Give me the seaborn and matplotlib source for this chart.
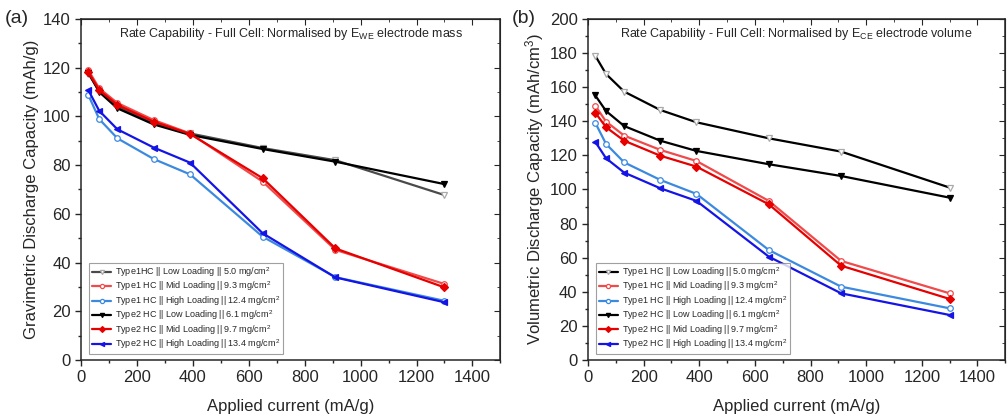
import numpy as np
import pandas as pd
import seaborn as sns
import matplotlib
matplotlib.use("Agg")
import matplotlib.pyplot as plt
from matplotlib.ticker import MultipleLocator

# applied current (mA/g)
current = [26, 65, 130, 260, 390, 650, 910, 1300]

# gravimetric capacity (mAh/g), panel (a)
grav_t1_low = [117.5, 110.5, 104, 97, 93, 87, 82, 67.7]
grav_t1_mid = [119, 111.5, 105.5, 98.5, 93, 73.2, 45.2, 31.2]
grav_t1_high = [108.8, 98.9, 91.0, 82.5, 76.2, 50.6, 34.0, 24.3]
grav_t2_low = [118, 110, 103.3, 96.7, 92.4, 86.6, 81.4, 72.2]
grav_t2_mid = [118.1, 110.8, 104.7, 97.8, 92.8, 74.6, 45.8, 29.8]
grav_t2_high = [110.8, 102.3, 94.7, 87.2, 81.0, 52.0, 33.9, 23.7]

# volumetric capacity (mAh/cm3), panel (b)
vol_t1_low = [178.5, 167.7, 157.4, 146.6, 139.4, 130.0, 122.2, 101.1]
vol_t1_mid = [149.2, 139.8, 131.6, 123.2, 116.7, 93.3, 58.1, 39.1]
vol_t1_high = [139.2, 126.7, 115.9, 105.6, 97.4, 64.5, 43.0, 30.3]
vol_t2_low = [155.2, 146.0, 137.2, 128.6, 122.6, 114.8, 107.9, 95.2]
vol_t2_mid = [145.1, 136.5, 128.6, 119.8, 113.4, 91.3, 55.3, 35.8]
vol_t2_high = [128.0, 118.3, 109.9, 100.7, 93.3, 60.6, 39.1, 26.4]

labels_a = ["Type1HC || Low Loading || 5.0 mg/cm$^2$",
            "Type1 HC || Mid Loading || 9.3 mg/cm$^2$",
            "Type1 HC || High Loading || 12.4 mg/cm$^2$",
            "Type2 HC || Low Loading || 6.1 mg/cm$^2$",
            "Type2 HC || Mid Loading || 9.7 mg/cm$^2$",
            "Type2 HC || High Loading || 13.4 mg/cm$^2$"]
labels_b = ["Type1 HC || Low Loading || 5.0 mg/cm$^2$"] + labels_a[1:]

# (color, marker, filled)
styles = [("#4a4a4a", "v", False),
          ("#f04a4a", "o", False),
          ("#3c8ae0", "o", False),
          ("#000000", "v", True),
          ("#e60000", "D", True),
          ("#1414e6", "<", True)]

sns.set_style("ticks")
plt.rcParams["font.family"] = ["Liberation Sans", "DejaVu Sans"]
plt.rcParams["mathtext.fontset"] = "custom"
plt.rcParams["mathtext.rm"] = "Liberation Sans"
plt.rcParams["mathtext.it"] = "Liberation Sans:italic"
plt.rcParams["mathtext.bf"] = "Liberation Sans:bold"

fig = plt.figure(figsize=(10.08, 4.19), dpi=100)
ax_a = fig.add_axes([0.0804, 0.1408, 0.416, 0.814])
ax_b = fig.add_axes([0.5833, 0.1408, 0.414, 0.814])


def draw_panel(ax, series, labels, ymax, ylabel, title, line1_color):
    for i, (vals, lab) in enumerate(zip(series, labels)):
        color, marker, filled = styles[i]
        if i == 0:
            color = line1_color
        df = pd.DataFrame({"current": current, "cap": vals})
        sns.lineplot(data=df, x="current", y="cap", ax=ax, color=color,
                     marker=marker, markersize=4, linewidth=1.6,
                     markerfacecolor=color if filled else "white",
                     markeredgecolor=color if filled else "#aaaaaa" if i == 0 else color,
                     markeredgewidth=0.9, label=lab)
    ax.set_xlim(0, 1500)
    ax.set_ylim(0, ymax)
    ax.xaxis.set_major_locator(MultipleLocator(200))
    ax.xaxis.set_minor_locator(MultipleLocator(100))
    ax.yaxis.set_major_locator(MultipleLocator(20))
    ax.yaxis.set_minor_locator(MultipleLocator(10))
    ax.set_xticks([0, 200, 400, 600, 800, 1000, 1200, 1400])
    ax.tick_params(which="major", direction="out", length=4, width=1, labelsize=12)
    ax.tick_params(which="minor", direction="out", length=2.5, width=1)
    for s in ax.spines.values():
        s.set_linewidth(1.1)
        s.set_visible(True)
    top = ax.secondary_xaxis("top")
    top.xaxis.set_major_locator(MultipleLocator(200))
    top.xaxis.set_minor_locator(MultipleLocator(100))
    top.tick_params(which="both", direction="in", labeltop=False)
    top.tick_params(which="major", length=4)
    top.tick_params(which="minor", length=2.5)
    right = ax.secondary_yaxis("right")
    right.yaxis.set_major_locator(MultipleLocator(20))
    right.yaxis.set_minor_locator(MultipleLocator(10))
    right.tick_params(which="both", direction="in", labelright=False)
    right.tick_params(which="major", length=4)
    right.tick_params(which="minor", length=2.5)
    ax.set_xlabel("Applied current (mA/g)", fontsize=12, labelpad=10)
    ax.set_ylabel(ylabel, fontsize=12, labelpad=3)
    ax.text(0.5, 0.955, title, transform=ax.transAxes, ha="center", va="center", fontsize=9)
    leg = ax.legend(loc="lower left", fontsize=6.5, frameon=True, fancybox=False,
                    edgecolor="#888888", borderpad=0.3, labelspacing=0.08,
                    handlelength=2.2, handletextpad=0.4, markerscale=0.75,
                    bbox_to_anchor=(0.008, 0.005))
    leg.get_frame().set_linewidth(0.8)


draw_panel(ax_a, [grav_t1_low, grav_t1_mid, grav_t1_high, grav_t2_low, grav_t2_mid, grav_t2_high],
           labels_a, 140, "Gravimetric Discharge Capacity (mAh/g)",
           "Rate Capability - Full Cell: Normalised by E$_{\\rm WE}$ electrode mass", "#4a4a4a")
draw_panel(ax_b, [vol_t1_low, vol_t1_mid, vol_t1_high, vol_t2_low, vol_t2_mid, vol_t2_high],
           labels_b, 200, "Volumetric Discharge Capacity (mAh/cm$^3$)",
           "Rate Capability - Full Cell: Normalised by E$_{\\rm CE}$ electrode volume", "#000000")

fig.text(0.005, 0.955, "(a)", fontsize=14, va="center")
fig.text(0.508, 0.955, "(b)", fontsize=14, va="center")

fig.savefig("out.png", dpi=100)
